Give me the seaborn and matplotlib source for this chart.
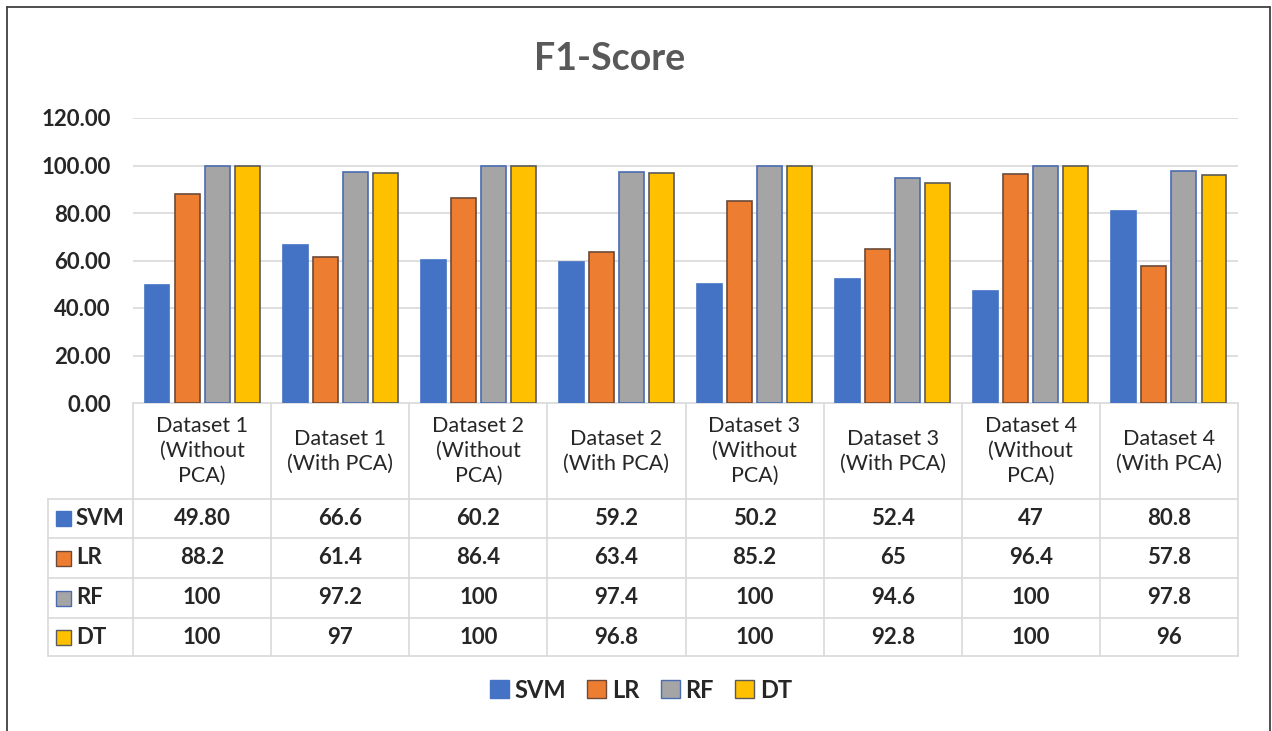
import numpy as np
import pandas as pd
import seaborn as sns
import matplotlib.pyplot as plt
from matplotlib import lines, patches
from matplotlib.transforms import blended_transform_factory

sns.set_style("white")
plt.rcParams['font.family'] = ['Lato', 'DejaVu Sans']

# Data
categories = ["Dataset 1\n(Without\nPCA)", "Dataset 1\n(With PCA)",
              "Dataset 2\n(Without\nPCA)", "Dataset 2\n(With PCA)",
              "Dataset 3\n(Without\nPCA)", "Dataset 3\n(With PCA)",
              "Dataset 4\n(Without\nPCA)", "Dataset 4\n(With PCA)"]
models = ["SVM", "LR", "RF", "DT"]
svm = [49.80, 66.6, 60.2, 59.2, 50.2, 52.4, 47, 80.8]
lr = [88.2, 61.4, 86.4, 63.4, 85.2, 65, 96.4, 57.8]
rf = [100, 97.2, 100, 97.4, 100, 94.6, 100, 97.8]
dt = [100, 97, 100, 96.8, 100, 92.8, 100, 96]
yticks = [0, 20, 40, 60, 80, 100, 120]

colors = {'SVM': '#4472C4', 'LR': '#ED7D31', 'RF': '#A5A5A5', 'DT': '#FFC000'}
edges = {'SVM': '#4472C4', 'LR': '#6b4a3a', 'RF': '#4a6cb0', 'DT': '#5a5a5a'}

scores = {'SVM': svm, 'LR': lr, 'RF': rf, 'DT': dt}
df = pd.DataFrame([(c, m, v) for m in models for c, v in zip(categories, scores[m])],
                  columns=['dataset', 'model', 'score'])

W, H = 1272, 731
fig = plt.figure(figsize=(W / 100, H / 100), dpi=100)


def fx(px):
    return px / W


def fy(py):
    return 1 - py / H


# Bar chart
ax = fig.add_axes([fx(133), fy(403), fx(1238) - fx(133), fy(118) - fy(403)])
sns.barplot(data=df, x='dataset', y='score', hue='model', palette=colors,
            width=0.87, gap=0.17, saturation=1, legend=False, ax=ax, zorder=3)
for cont, m in zip(ax.containers, models):
    for bar in cont:
        bar.set_edgecolor(edges[m])
        bar.set_linewidth(1.2)

ax.set_xlim(-0.5, len(categories) - 0.5)
ax.set_ylim(0, 120)
ax.set_yticks(yticks)
ax.set_yticklabels([f"{t:.2f}" for t in yticks], fontsize=16, fontweight='bold', color='#262626')
ax.tick_params(axis='y', length=0, pad=16)
ax.set_xticks([])
ax.set_xlabel('')
ax.set_ylabel('')
ax.grid(axis='y', color='#d9d9d9', lw=1.2)
ax.set_axisbelow(True)
for s in ['left', 'right', 'top', 'bottom']:
    ax.spines[s].set_visible(False)

# Data table below the chart
tax = fig.add_axes([0, 0, 1, 1], zorder=-1)
tax.set_xlim(0, W)
tax.set_ylim(H, 0)
tax.axis('off')
trans = blended_transform_factory(ax.transData, tax.transData)
grid_c = '#d9d9d9'

for i in range(len(categories) + 1):
    tax.plot([i - 0.5, i - 0.5], [403, 656], color=grid_c, lw=1.2, transform=trans, clip_on=False)
tax.plot([48, 48], [499, 656], color=grid_c, lw=1.2)
tax.plot([133, 1238], [403, 403], color=grid_c, lw=1.2)
row_lines = [499, 538, 578, 618, 656]
for yl in row_lines:
    tax.plot([48, 1238], [yl, yl], color=grid_c, lw=1.2)

for i, c in enumerate(categories):
    tax.text(i, 451, c, transform=trans, ha='center', va='center',
             fontsize=15.5, color='#262626', linespacing=1.3)

for r, m in enumerate(models):
    yc = (row_lines[r] + row_lines[r + 1]) / 2
    tax.add_patch(patches.Rectangle((56, yc - 7.5), 15, 15, facecolor=colors[m],
                                    edgecolor=edges[m], lw=1))
    tax.text(76, yc, m, ha='left', va='center', fontsize=16, fontweight='bold', color='#262626')
    for i, v in enumerate(scores[m]):
        label = "49.80" if (m == 'SVM' and i == 0) else f"{v:g}"
        tax.text(i, yc, label, transform=trans, ha='center', va='center',
                 fontsize=16, fontweight='bold', color='#262626')

# Legend
handles = [patches.Patch(facecolor=colors[m], edgecolor=edges[m], label=m) for m in models]
fig.legend(handles=handles, loc='center', bbox_to_anchor=(fx(641), fy(690)), ncol=4,
           frameon=False, prop={'weight': 'bold', 'size': 17}, handlelength=0.8,
           handleheight=0.8, handletextpad=0.25, columnspacing=0.9)

# Title
fig.text(fx(610), fy(59), "F1-Score", ha='center', va='center', fontsize=27,
         fontweight='bold', color='#595959')

# Outer frame
fig.add_artist(lines.Line2D([fx(7), fx(7)], [fy(7), 0], color='#404040', lw=1.3))
fig.add_artist(lines.Line2D([fx(1270), fx(1270)], [fy(7), 0], color='#404040', lw=1.3))
fig.add_artist(lines.Line2D([fx(7), fx(1270)], [fy(7), fy(7)], color='#404040', lw=1.3))

fig.savefig("out.png", dpi=100)
